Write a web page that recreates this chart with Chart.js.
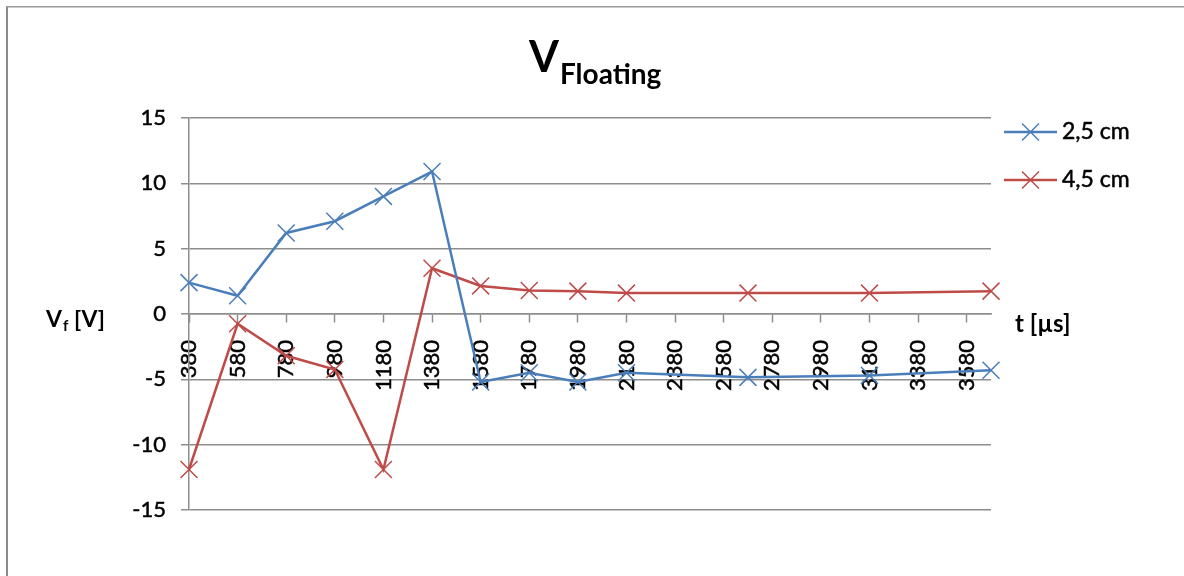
<!DOCTYPE html>
<html>
<head>
<meta charset="utf-8">
<title>V Floating</title>
<script src="https://cdn.jsdelivr.net/npm/chart.js@4/dist/chart.umd.min.js"></script>
<style>
  html, body { margin: 0; padding: 0; background: #ffffff; }
  #wrap { position: relative; width: 1184px; height: 576px; }
</style>
</head>
<body>
<div id="wrap"><canvas id="chart" width="1184" height="576"></canvas></div>
<script>
// Measurement times (µs)
const times = [380, 580, 780, 980, 1180, 1380, 1580, 1780, 1980, 2180, 2680, 3180, 3680];
// Floating potential (V) at 2,5 cm
const vf25 = [2.4, 1.4, 6.2, 7.1, 9.0, 10.9, -5.2, -4.5, -5.2, -4.5, -4.85, -4.7, -4.3];
// Floating potential (V) at 4,5 cm
const vf45 = [-11.9, -0.75, -3.2, -4.25, -11.9, 3.5, 2.15, 1.8, 1.75, 1.6, 1.6, 1.6, 1.75];
// Labelled positions on the time axis
const timeTicks = [380, 580, 780, 980, 1180, 1380, 1580, 1780, 1980, 2180, 2380, 2580, 2780, 2980, 3180, 3380, 3580];
const seriesNames = ['2,5 cm', '4,5 cm'];
const seriesColors = ['#4A7EBB', '#BE4B48'];

const FONT = 'Lato, "Open Sans", sans-serif';
const GRID = '#8E8E8E';
const POINT_R = 12;

function toPoints(xs, ys) {
  return xs.map((x, i) => ({ x: x, y: ys[i] }));
}

function makeDataset(name, values, color) {
  return {
    label: name,
    data: toPoints(times, values),
    borderColor: color,
    backgroundColor: color,
    borderWidth: 2.5,
    pointStyle: 'crossRot',
    pointRadius: POINT_R,
    pointHoverRadius: POINT_R,
    pointBorderColor: color,
    pointBorderWidth: 1.5,
    tension: 0,
    clip: false
  };
}

// Frame, title, axis titles and legend drawn on the canvas
const decorations = {
  id: 'decorations',
  afterDraw(chart) {
    const ctx = chart.ctx;
    ctx.save();

    // outer frame (left and top edges)
    ctx.fillStyle = '#8A8A8A';
    ctx.fillRect(6, 6, 2, 576 - 6);
    ctx.fillStyle = '#9A9A9A';
    ctx.fillRect(6, 6, 1184 - 6, 1.5);

    ctx.fillStyle = '#000000';
    ctx.textBaseline = 'alphabetic';
    ctx.textAlign = 'left';

    // title: V with subscript "Floating"
    ctx.font = 'bold 43px ' + FONT;
    ctx.fillText('V', 529, 72);
    ctx.font = 'bold 28px ' + FONT;
    ctx.fillText('Floating', 560, 84);

    // y axis title: V_f [V]
    ctx.font = 'bold 23px ' + FONT;
    ctx.fillText('V', 46, 327);
    let xv = 46 + ctx.measureText('V').width;
    ctx.font = 'bold 15px ' + FONT;
    ctx.fillText('f', xv + 1, 331);
    xv += 1 + ctx.measureText('f').width;
    ctx.font = 'bold 23px ' + FONT;
    ctx.fillText(' [V]', xv, 327);

    // x axis title
    ctx.font = 'bold 24px ' + FONT;
    ctx.fillText('t [\u00B5s]', 1015, 332);

    // legend
    const legendY = [132, 180];
    chart.data.datasets.forEach((ds, i) => {
      const y = legendY[i];
      ctx.strokeStyle = ds.borderColor;
      ctx.lineWidth = 2.5;
      ctx.beginPath();
      ctx.moveTo(1004, y);
      ctx.lineTo(1057, y);
      ctx.stroke();
      ctx.lineWidth = 1.5;
      Chart.helpers.drawPoint(ctx, { pointStyle: 'crossRot', radius: POINT_R, borderWidth: 1.5, rotation: 0 }, 1030.5, y);
      ctx.fillStyle = '#000000';
      ctx.strokeStyle = '#000000';
      ctx.lineWidth = 0.5;
      ctx.font = '23px ' + FONT;
      ctx.textBaseline = 'middle';
      ctx.fillText(ds.label, 1062, y);
      ctx.strokeText(ds.label, 1062, y);
    });

    ctx.restore();
  }
};

new Chart(document.getElementById('chart'), {
  type: 'line',
  data: {
    datasets: [
      makeDataset(seriesNames[0], vf25, seriesColors[0]),
      makeDataset(seriesNames[1], vf45, seriesColors[1])
    ]
  },
  options: {
    responsive: false,
    animation: false,
    events: [],
    layout: { padding: { left: 0, top: 118, right: 193, bottom: 66 } },
    plugins: {
      legend: { display: false },
      title: { display: false },
      tooltip: { enabled: false }
    },
    scales: {
      x: {
        type: 'linear',
        position: { y: 0 },
        min: times[0],
        max: times[times.length - 1],
        afterBuildTicks(scale) {
          scale.ticks = timeTicks.map(v => ({ value: v }));
        },
        grid: {
          drawOnChartArea: false,
          drawTicks: true,
          tickLength: 8,
          tickColor: GRID,
          tickWidth: 1.5
        },
        border: { display: true, color: GRID, width: 1.5 },
        ticks: {
          minRotation: 90,
          maxRotation: 90,
          autoSkip: false,
          padding: 18,
          color: '#000000',
          textStrokeColor: '#000000',
          textStrokeWidth: 0.5,
          font: { family: FONT, size: 22 },
          callback: v => String(v)
        }
      },
      y: {
        type: 'linear',
        position: 'left',
        min: -15,
        max: 15,
        afterFit(scale) { scale.width = 189; },
        ticks: {
          stepSize: 5,
          padding: 15,
          color: '#000000',
          textStrokeColor: '#000000',
          textStrokeWidth: 0.5,
          font: { family: FONT, size: 22 },
          callback: v => String(v)
        },
        grid: {
          color: GRID,
          lineWidth: 1.5,
          drawTicks: true,
          tickLength: 8
        },
        border: { display: true, color: GRID, width: 1.5 }
      }
    }
  },
  plugins: [decorations]
});
</script>
</body>
</html>
